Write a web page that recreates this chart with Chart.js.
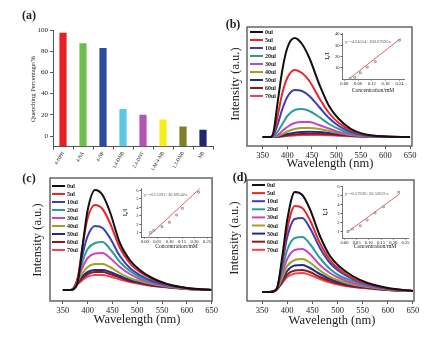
<!DOCTYPE html>
<html>
<head>
<meta charset="utf-8">
<script src="https://cdn.jsdelivr.net/npm/chart.js@4.4.1/dist/chart.umd.min.js"></script>
<style>
    body { margin: 0; background: #fff; width: 439px; height: 339px; position: relative; overflow: hidden; font-family: "Liberation Serif", serif; color: #222; }
    canvas { position: absolute; }
    .t { position: absolute; white-space: nowrap; line-height: 1; transform: translate(-50%, -50%); }
    .v { transform: translate(-50%, -50%) rotate(-90deg); }
    .lab { font-size: 12px; font-weight: bold; }
    .ax { font-size: 12.5px; }
</style>
</head>
<body>
<canvas id="chartA" width="220" height="175" style="left:0;top:0"></canvas>
<canvas id="chartB" width="219" height="165" style="left:220px;top:0"></canvas>
<canvas id="chartC" width="220" height="174" style="left:0;top:165px"></canvas>
<canvas id="chartD" width="219" height="174" style="left:220px;top:165px"></canvas>
<canvas id="insetB" width="88" height="66" style="left:322px;top:28px"></canvas>
<canvas id="insetC" width="98" height="68" style="left:120px;top:182px"></canvas>
<canvas id="insetD" width="94" height="70" style="left:320px;top:180px"></canvas>

<div class="t lab" style="left:29px;top:15px">(a)</div>
<div class="t v" style="left:33px;top:89px;font-size:6.5px">Quenching Percentage/%</div>
<div class="t lab" style="left:233px;top:24px">(b)</div>
<div class="t v ax" style="left:235px;top:84px">Intensity (a.u.)</div>
<div class="t ax" style="left:330px;top:163px">Wavelength (nm)</div>
<div class="t lab" style="left:29px;top:178px">(c)</div>
<div class="t v ax" style="left:37px;top:240px">Intensity (a.u.)</div>
<div class="t ax" style="left:137px;top:319px">Wavelength (nm)</div>
<div class="t lab" style="left:240px;top:177px">(d)</div>
<div class="t v ax" style="left:234px;top:238px">Intensity (a.u.)</div>
<div class="t ax" style="left:332px;top:320px">Wavelength (nm)</div>

<script>
// panel (a): quenching efficiency per analyte
const ANALYTES = ['4-NPH', '4-NA', '4-NP', '1,4-DNB', '2,4-DNT', '1-M-4-NB', '1,3-DNB', 'NB'];
const QUENCH = [97.5, 87.5, 83, 25.5, 20, 15.5, 9, 6];
const BAR_COLORS = ['#e81e25', '#6cc04a', '#2e4a9e', '#5cc8e6', '#b356b3', '#f2ee1e', '#7f7f2a', '#1f2670'];
const Y_TICKS_A = [0, 20, 40, 60, 80, 100];

// panels (b)-(d): emission spectra after each addition
const VOLUMES = ['0ul', '5ul', '10ul', '20ul', '30ul', '40ul', '50ul', '60ul', '70ul'];
const LINE_COLORS = ['#111111', '#e8262c', '#3a3fb8', '#2a9d9a', '#c845c0', '#a3a123', '#1f2c8f', '#8b1c1c', '#f0444f'];
const WL = [350, 366, 372, 380, 390, 400, 415, 430, 445, 465, 485, 505, 530, 560, 600, 650];
const WL_TICKS = [350, 400, 450, 500, 550, 600, 650];

const SPEC_B = [
    [0, 0, 5, 33, 67, 89, 99, 93, 79, 53, 31, 18, 8, 2.5, 0.5, 0],
    [0, 0, 3, 20, 44, 59, 67, 64, 56, 39, 24, 14, 6.5, 2, 0.5, 0],
    [0, 0, 2, 12, 28, 40, 47, 46, 41, 30, 19, 11, 5, 1.5, 0.3, 0],
    [0, 0, 1, 5, 13, 21, 27, 28, 26, 20, 13, 8, 3.5, 1, 0.2, 0],
    [0, 0, 0.5, 2, 6, 10, 14, 15, 15, 12, 8.5, 5, 2.5, 0.8, 0.2, 0],
    [0, 0, 0.3, 1, 3, 5.5, 8, 9, 9, 8, 6, 4, 2, 0.7, 0.2, 0],
    [0, 0, 0.2, 0.6, 1.5, 3, 4.3, 5, 5.2, 5, 4, 2.8, 1.5, 0.5, 0.1, 0],
    [0, 0, 0.1, 0.3, 1, 1.8, 2.6, 3, 3.2, 3.2, 2.7, 2, 1.1, 0.4, 0.1, 0],
    [0, 0, 0.1, 0.2, 0.6, 1.1, 1.6, 1.9, 2.1, 2.1, 1.8, 1.3, 0.8, 0.3, 0.1, 0]
];
const SPEC_C = [
    [0, 0, 1, 8, 45, 80, 100, 95, 78, 47, 30, 20, 12, 6, 2, 0],
    [0, 0, 2, 12, 45, 72, 85, 81, 67, 42, 27, 18, 11, 5.5, 2, 0],
    [0, 0, 2, 12, 36, 54, 64, 62, 52, 34, 22, 15, 9, 5, 1.8, 0],
    [0, 0, 2, 11, 29, 41, 47, 48, 41, 28, 19, 13, 8, 4.5, 1.6, 0],
    [0, 0, 2, 10, 23, 32, 36.5, 37, 32, 23, 16, 11, 7, 4, 1.5, 0],
    [0, 0, 2, 9, 17, 23, 26, 26, 23, 17, 12, 9, 6, 3.5, 1.3, 0],
    [0, 0, 1.5, 8, 14, 18, 20, 20, 18, 14, 10, 7.5, 5, 3, 1.2, 0],
    [0, 0, 1.5, 7, 12, 16, 18, 18, 16, 12.5, 9, 7, 4.5, 3, 1.1, 0],
    [0, 0, 1, 6, 10, 13.5, 15, 15, 13.5, 10.5, 8, 6, 4, 2.5, 1, 0]
];
const SPEC_D = [
    [0, 0, 0.5, 4, 35, 72, 100, 97, 83, 56, 36, 25, 16, 9, 4, 1],
    [0, 0, 0.5, 4, 31, 63, 86, 84, 72, 49, 32, 22, 14, 8, 3.5, 1],
    [0, 0, 0.5, 4, 28, 55, 73, 74, 64, 44, 29, 20, 13, 7.5, 3.3, 1],
    [0, 0, 0.5, 4, 22, 42, 54, 55, 48, 34, 23, 16, 11, 6.5, 3, 1],
    [0, 0, 0.5, 4, 18, 33, 42, 43, 38, 27, 19, 13.5, 9, 5.5, 2.7, 1],
    [0, 0, 0.5, 3.5, 14, 26, 32, 33, 29.5, 21.5, 15, 11, 7.5, 5, 2.5, 1],
    [0, 0, 0.5, 3, 12, 21, 26.5, 27, 24, 18, 13, 9.5, 6.5, 4.5, 2.3, 1],
    [0, 0, 0.5, 3, 10, 17.5, 21.5, 22, 20, 15, 11, 8, 5.5, 4, 2, 1],
    [0, 0, 0.5, 2.5, 9, 15, 18.5, 19, 17, 13, 9.5, 7, 5, 3.5, 2, 1]
];

// Stern-Volmer insets: measured points + fitted line ends
const SV_B_X = [0.025, 0.045, 0.07, 0.10, 0.135, 0.24];
const SV_B_Y = [0.3, 1.5, 5.5, 10.5, 15.5, 34.5];
const FIT_B_X = [0.02, 0.245];
const FIT_B_Y = [0, 36];
const SV_B_XTICKS = [0, 0.06, 0.12, 0.18, 0.24];
const SV_B_YTICKS = [10, 20, 30, 40];
const EQ_B = 'y=-4.24514+168.67635x';

const SV_C_X = [0.023, 0.036, 0.069, 0.099, 0.128, 0.151, 0.216];
const SV_C_Y = [1.03, 1.27, 1.73, 2.24, 3.1, 3.9, 5.8];
const FIT_C_X = [0.015, 0.22];
const FIT_C_Y = [0.6, 6.2];
const EQ_C = 'y=-0.15591+30.69542x';

const SV_D_X = [0.014, 0.032, 0.065, 0.093, 0.125, 0.16, 0.222];
const SV_D_Y = [1.03, 1.3, 1.67, 2.3, 3.1, 3.8, 5.4];
const FIT_D_X = [0.01, 0.225];
const FIT_D_Y = [0.92, 5.2];
const EQ_D = 'y=-0.57636+20.52021x';

const SV_CD_XTICKS = [0, 0.05, 0.10, 0.15, 0.20, 0.25];
const SV_CD_YTICKS = [1, 2, 3, 4, 5, 6];

const SERIF = '"Liberation Serif", serif';
const TEXT = '#222';
const AXIS = '#555';
const FIT_RED = '#e06464';

Chart.defaults.animation = false;
Chart.defaults.responsive = false;
Chart.defaults.plugins.legend.display = false;
Chart.defaults.plugins.tooltip.enabled = false;

const fixedTicks = arr => scale => { scale.ticks = arr.map(v => ({ value: v })); };

const frame = {
    id: 'frame',
    afterDraw(chart) {
        const { ctx, chartArea: a } = chart;
        ctx.save();
        ctx.strokeStyle = '#666';
        ctx.lineWidth = 1.5;
        ctx.strokeRect(a.left, a.top, a.width, a.height);
        ctx.restore();
    }
};

// legend drawn inside the plot area, one row per addition
const lineLegend = {
    id: 'lineLegend',
    afterDatasetsDraw(chart, args, o) {
        const { ctx, chartArea: a } = chart;
        ctx.save();
        ctx.font = '600 6px ' + SERIF;
        ctx.textBaseline = 'middle';
        chart.data.datasets.forEach((ds, i) => {
            const x = a.left + o.left;
            const y = a.top + o.top + i * o.gap;
            ctx.strokeStyle = ds.borderColor;
            ctx.lineWidth = 2;
            ctx.beginPath();
            ctx.moveTo(x, y);
            ctx.lineTo(x + 13, y);
            ctx.stroke();
            ctx.fillStyle = TEXT;
            ctx.fillText(ds.label, x + 15, y + 0.5);
        });
        ctx.restore();
    }
};

const eqNote = {
    id: 'eqNote',
    afterDraw(chart, args, o) {
        const { ctx, chartArea: a } = chart;
        ctx.save();
        ctx.font = '4.6px ' + SERIF;
        ctx.fillStyle = '#555';
        ctx.textBaseline = 'middle';
        ctx.fillText(o.text, a.left + 3, a.top + o.dy);
        ctx.restore();
    }
};

// ---- (a) bar chart ----
new Chart(document.getElementById('chartA'), {
    type: 'bar',
    data: {
        labels: ANALYTES,
        datasets: [{
            data: QUENCH,
            backgroundColor: BAR_COLORS,
            base: -10,
            barPercentage: 0.36,
            categoryPercentage: 1
        }]
    },
    options: {
        layout: { padding: { top: 30, right: 7, left: 0, bottom: 0 } },
        scales: {
            x: {
                grid: { display: true, drawOnChartArea: false, tickLength: 3, color: AXIS },
                border: { color: AXIS, width: 1 },
                ticks: { font: { family: SERIF, size: 5 }, color: TEXT, minRotation: 60, maxRotation: 60, autoSkip: false, padding: 1 },
                afterFit: s => { s.height = 28.4; }
            },
            y: {
                min: -10,
                max: 100,
                afterBuildTicks: fixedTicks(Y_TICKS_A),
                ticks: { font: { family: SERIF, size: 7 }, color: TEXT, padding: 2 },
                grid: { display: true, drawOnChartArea: false, tickLength: 3, color: AXIS },
                border: { color: AXIS, width: 1 },
                afterFit: s => { s.width = 53; }
            }
        }
    }
});

// ---- (b)-(d) spectra ----
function spectrumDatasets(series) {
    return series.map((vals, i) => ({
        label: VOLUMES[i],
        data: vals.map((v, k) => ({ x: WL[k], y: v })),
        borderColor: LINE_COLORS[i],
        borderWidth: 2,
        pointRadius: 0,
        cubicInterpolationMode: 'monotone',
        fill: false
    }));
}

function makeSpectrum(id, series, o) {
    return new Chart(document.getElementById(id), {
        type: 'line',
        data: { datasets: spectrumDatasets(series) },
        options: {
            layout: { padding: { top: o.top, right: o.right, left: 0, bottom: 0 } },
            plugins: { lineLegend: o.legend },
            scales: {
                x: {
                    type: 'linear',
                    min: o.xMin,
                    max: o.xMax,
                    afterBuildTicks: fixedTicks(WL_TICKS),
                    ticks: { font: { family: SERIF, size: 8.5 }, color: TEXT, padding: 2, maxRotation: 0, autoSkip: false },
                    grid: { display: true, drawOnChartArea: false, tickLength: 3, color: AXIS },
                    border: { display: false },
                    afterFit: s => { s.height = o.xh; }
                },
                y: {
                    min: o.yMin,
                    max: o.yMax,
                    ticks: { display: false },
                    grid: { display: false },
                    border: { display: false },
                    afterFit: s => { s.width = o.yw; }
                }
            }
        },
        plugins: [frame, lineLegend]
    });
}

makeSpectrum('chartB', SPEC_B, {
    top: 27, right: 27, yw: 27, xh: 19, xMin: 318, xMax: 654, yMin: -9, yMax: 110,
    legend: { left: 3, top: 5, gap: 8 }
});
makeSpectrum('chartC', SPEC_C, {
    top: 13, right: 5, yw: 50, xh: 38, xMin: 324, xMax: 651, yMin: -11, yMax: 112,
    legend: { left: 2, top: 8, gap: 8 }
});
makeSpectrum('chartD', SPEC_D, {
    top: 15, right: 25, yw: 27, xh: 38, xMin: 320, xMax: 652, yMin: -9, yMax: 112,
    legend: { left: 5, top: 5, gap: 8.1 }
});

// ---- insets ----
function makeInset(id, o) {
    const small = { family: SERIF, size: 4.6 };
    return new Chart(document.getElementById(id), {
        type: 'scatter',
        data: {
            datasets: [
                {
                    data: o.px.map((x, i) => ({ x, y: o.py[i] })),
                    pointStyle: 'rect', pointRadius: 1.3, borderWidth: 0.6,
                    borderColor: '#666', backgroundColor: '#fff', order: 0
                },
                {
                    data: o.fx.map((x, i) => ({ x, y: o.fy[i] })),
                    showLine: true, pointRadius: 0, borderColor: FIT_RED, borderWidth: 1, order: 1
                }
            ]
        },
        options: {
            layout: { padding: { top: o.top, right: o.right, left: 0, bottom: 0 } },
            plugins: { eqNote: { text: o.eq, dy: o.dy } },
            scales: {
                x: {
                    type: 'linear', min: o.xMin, max: o.xMax,
                    afterBuildTicks: fixedTicks(o.xTicks),
                    ticks: { font: small, color: TEXT, padding: 0.5, maxRotation: 0, autoSkip: false, callback: v => v.toFixed(2) },
                    grid: { display: true, drawOnChartArea: false, tickLength: 1.5, color: AXIS },
                    border: { color: AXIS, width: 0.8 },
                    title: { display: true, text: 'Concentration/mM', font: { family: SERIF, size: 5.6 }, color: TEXT, padding: 0 },
                    afterFit: s => { s.height = o.xh; }
                },
                y: {
                    min: o.yMin, max: o.yMax,
                    afterBuildTicks: fixedTicks(o.yTicks),
                    ticks: { font: small, color: TEXT, padding: 1 },
                    grid: { display: true, drawOnChartArea: false, tickLength: 1.5, color: AXIS },
                    border: { color: AXIS, width: 0.8 },
                    title: { display: true, text: 'I₀/I', font: { family: SERIF, size: 5.6, weight: 'bold' }, color: TEXT, padding: { top: 2, bottom: 0 } },
                    afterFit: s => { s.width = o.yw; }
                }
            }
        },
        plugins: [eqNote]
    });
}

makeInset('insetB', {
    px: SV_B_X, py: SV_B_Y, fx: FIT_B_X, fy: FIT_B_Y, eq: EQ_B, dy: 9,
    xTicks: SV_B_XTICKS, yTicks: SV_B_YTICKS, xMin: -0.01, xMax: 0.26, yMin: 0, yMax: 41,
    top: 5, right: 6, yw: 20, xh: 15
});
makeInset('insetC', {
    px: SV_C_X, py: SV_C_Y, fx: FIT_C_X, fy: FIT_C_Y, eq: EQ_C, dy: 7,
    xTicks: SV_CD_XTICKS, yTicks: SV_CD_YTICKS, xMin: -0.015, xMax: 0.27, yMin: 0.5, yMax: 6.3,
    top: 6, right: 6, yw: 21, xh: 13
});
makeInset('insetD', {
    px: SV_D_X, py: SV_D_Y, fx: FIT_D_X, fy: FIT_D_Y, eq: EQ_D, dy: 8,
    xTicks: SV_CD_XTICKS, yTicks: SV_CD_YTICKS, xMin: -0.01, xMax: 0.26, yMin: 0.3, yMax: 6.1,
    top: 6, right: 6, yw: 22, xh: 12
});
</script>
</body>
</html>
